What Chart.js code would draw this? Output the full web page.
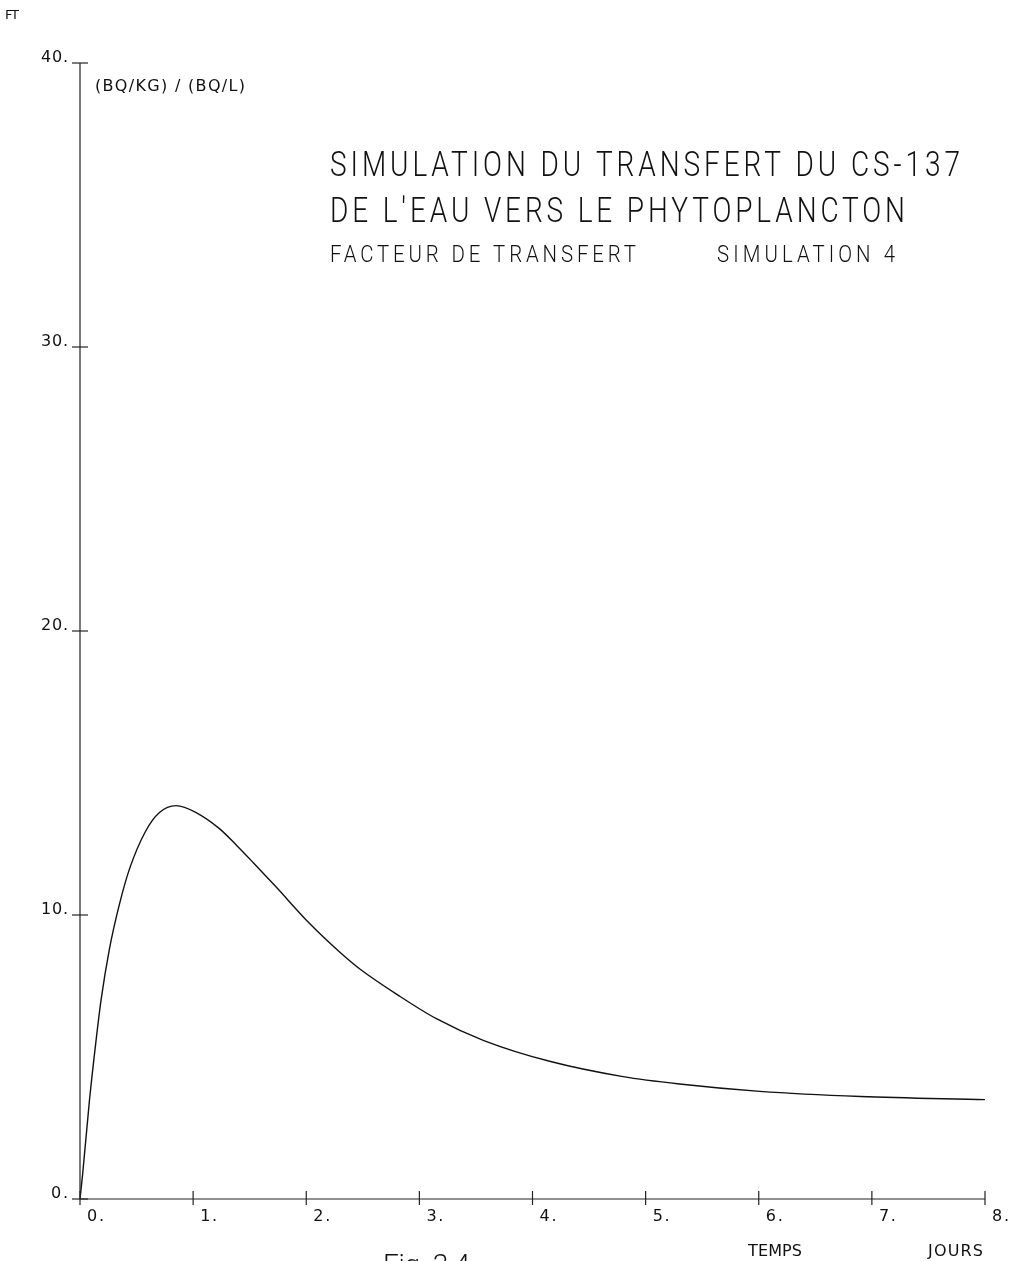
<!DOCTYPE html>
<html>
<head>
<meta charset="utf-8">
<script src="https://cdn.jsdelivr.net/npm/chart.js@4"></script>
<style>
  html, body { margin: 0; padding: 0; background: #fff; }
  #wrap { width: 1015px; height: 1261px; }
</style>
</head>
<body>
<div id="wrap"><canvas id="ftChart"></canvas></div>
<script>
// time in days, transfer factor (Bq/kg)/(Bq/L)
const days = [0, 0.024, 0.083, 0.141, 0.186, 0.26, 0.35, 0.44, 0.58, 0.70, 0.85, 1.03, 1.23, 1.385, 1.53, 1.73, 2.03, 2.30, 2.48, 2.83, 3.15, 3.57, 4.16, 4.80, 5.30, 6.01, 6.90, 8.0];
const ft = [0, 0.9, 3.45, 5.55, 7.0, 8.8, 10.4, 11.65, 12.95, 13.6, 13.85, 13.6, 13.05, 12.45, 11.85, 11.0, 9.7, 8.68, 8.08, 7.13, 6.35, 5.58, 4.84, 4.31, 4.05, 3.79, 3.61, 3.50];

const xTicks = [0, 1, 2, 3, 4, 5, 6, 7, 8];
const xTickLabels = ["0.", "1.", "2.", "3.", "4.", "5.", "6.", "7.", "8."];
const yTicks = [0, 10, 20, 30, 40];
const yTickLabels = ["0.", "10.", "20.", "30.", "40."];

const titleLines = ["SIMULATION DU TRANSFERT DU CS-137", "DE L'EAU VERS LE PHYTOPLANCTON"];

// draw text spread to a given width (pen plotter lettering), optionally condensed
function spreadText(ctx, text, x, y, width, sx = 1) {
  ctx.save();
  ctx.translate(x, y);
  ctx.scale(sx, 1);
  const target = width / sx;
  ctx.letterSpacing = "0px";
  const w = ctx.measureText(text).width;
  const s = text.length > 1 ? (target - w) / (text.length - 1) : 0;
  ctx.letterSpacing = s + "px";
  ctx.fillText(text, 0, 0);
  ctx.restore();
}

const plotterAxes = {
  id: "plotterAxes",
  afterDraw(chart) {
    const { ctx, scales: { x, y } } = chart;
    const x0 = x.getPixelForValue(0), y0 = y.getPixelForValue(0);
    ctx.save();
    ctx.strokeStyle = "#222";
    ctx.lineWidth = 1.2;

    // axes
    ctx.beginPath();
    ctx.moveTo(x0, y.getPixelForValue(40));
    ctx.lineTo(x0, y0);
    ctx.lineTo(x.getPixelForValue(8), y0);
    ctx.stroke();

    ctx.fillStyle = "#111";
    ctx.textBaseline = "alphabetic";
    ctx.textAlign = "left";

    // y ticks
    ctx.font = "16px 'DejaVu Sans'";
    yTicks.forEach((v, i) => {
      const py = y.getPixelForValue(v);
      ctx.beginPath();
      ctx.moveTo(x0 - 8, py);
      ctx.lineTo(x0 + 8, py);
      ctx.stroke();
      const lbl = yTickLabels[i];
      const wdt = lbl.length === 2 ? 17 : 27;
      spreadText(ctx, lbl, x0 - 12 - wdt, py - 1, wdt);
    });

    // x ticks
    xTicks.forEach((v, i) => {
      const px = x.getPixelForValue(v);
      ctx.beginPath();
      ctx.moveTo(px, y0 - 8);
      ctx.lineTo(px, y0 + 6);
      ctx.stroke();
      spreadText(ctx, xTickLabels[i], px + 7, y0 + 22, 17);
    });

    ctx.font = "13px 'DejaVu Sans'";
    spreadText(ctx, "FT", 5, 19, 14);

    ctx.font = "16px 'DejaVu Sans'";
    spreadText(ctx, "(BQ/KG) / (BQ/L)", 95, 91, 150);

    ctx.font = "300 35px Roboto";
    spreadText(ctx, titleLines[0], 330, 176, 630, 0.8);
    spreadText(ctx, titleLines[1], 330, 222, 575, 0.8);
    ctx.font = "300 24px Roboto";
    spreadText(ctx, "FACTEUR DE TRANSFERT", 330, 262, 306, 0.85);
    spreadText(ctx, "SIMULATION 4", 717, 262, 178, 0.85);

    ctx.font = "16px 'DejaVu Sans'";
    spreadText(ctx, "TEMPS", 748, 1256, 54);
    spreadText(ctx, "JOURS", 928, 1256, 55);

    ctx.font = "300 28px Roboto";
    spreadText(ctx, "Fig. 3.4", 383, 1274, 87);
    ctx.restore();
  }
};

new Chart(document.getElementById("ftChart"), {
  type: "line",
  data: {
    datasets: [{
      data: days.map((d, i) => ({ x: d, y: ft[i] })),
      borderColor: "#111",
      borderWidth: 1.4,
      pointRadius: 0,
      cubicInterpolationMode: "monotone",
      fill: false
    }]
  },
  options: {
    responsive: true,
    maintainAspectRatio: false,
    animation: false,
    layout: { padding: { left: 80, right: 30, top: 63, bottom: 62 } },
    plugins: { legend: { display: false }, tooltip: { enabled: false } },
    scales: {
      x: { type: "linear", min: 0, max: 8, display: false },
      y: { min: 0, max: 40, display: false }
    }
  },
  plugins: [plotterAxes]
});
</script>
</body>
</html>
